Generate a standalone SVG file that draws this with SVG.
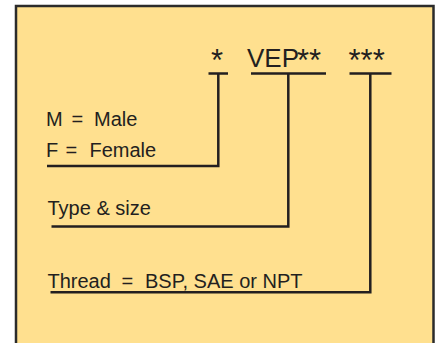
<svg xmlns="http://www.w3.org/2000/svg" width="438" height="343" viewBox="0 0 438 343">
<style>
.t{font-family:"Liberation Sans",Arial,sans-serif;fill:#231f20}
.s{font-size:20px}
.b{font-size:26px}
.a{font-size:31px}
.c{fill:none;stroke:#231f20;stroke-width:2.5;stroke-linecap:butt;stroke-linejoin:miter}
</style>
<rect x="0" y="0" width="438" height="343" fill="#ffffff"/>
<g id="frame">
<rect x="16" y="6" width="417.5" height="360" fill="#ffe08f" stroke="#2b2b2b" stroke-width="2.5"/>
</g>
<g id="code">
<text class="t a" x="211" y="70.5">*</text>
<text class="t b" x="247" y="66.5">VEP</text>
<text class="t a" x="297" y="70.5">**</text>
<text class="t a" x="348.5" y="70.5">***</text>
</g>
<g id="connectors">
<path class="c" d="M208.5 73.5H228M218.3 73.5V166H47"/>
<path class="c" d="M251 73.5H326M288.3 73.5V226.5H51.5"/>
<path class="c" d="M349.5 73.5H391.5M370.3 73.5V292.3H50.5"/>
</g>
<g id="gender">
<text class="t s" y="125.7"><tspan x="46">M</tspan><tspan x="71.5">=</tspan><tspan x="94">Male</tspan></text>
<text class="t s" y="156.7"><tspan x="46">F</tspan><tspan x="65.5">=</tspan><tspan x="89.5">Female</tspan></text>
</g>
<g id="type">
<text class="t s" x="47.5" y="215">Type &amp; size</text>
</g>
<g id="thread">
<text class="t s" y="287.7"><tspan x="47.5">Thread</tspan><tspan x="121.5">=</tspan><tspan x="145">BSP, SAE or NPT</tspan></text>
</g>
</svg>
